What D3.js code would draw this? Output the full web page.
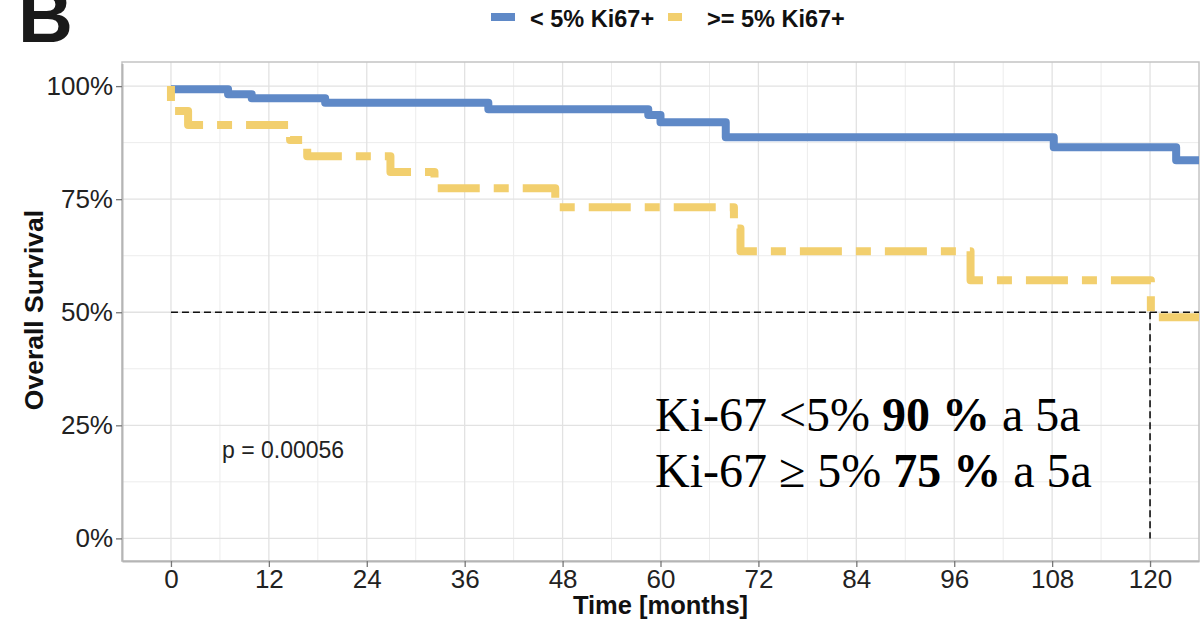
<!DOCTYPE html>
<html>
<head>
<meta charset="utf-8">
<script src="https://cdn.jsdelivr.net/npm/d3@7"></script>
<style>
  body { margin: 0; background: #fff; }
  svg { display: block; }
  .tick text { font-family: "Liberation Sans", Arial, sans-serif; fill: #222; }
</style>
</head>
<body>
<svg id="chart" width="1201" height="624"></svg>
<script>
/* global d3 */

// Kaplan-Meier steps (time in months, survival in %)
var lowTime = [0, 7.0, 9.9, 18.9, 38.9, 58.5, 60.0, 68.0, 108.2, 123.2, 126];
var lowSurv = [99.3, 98.2, 97.3, 96.3, 94.9, 93.6, 92.0, 88.7, 86.5, 83.6, 83.6];
var highTime = [0, 0, 2.1, 14.6, 16.7, 26.9, 32.3, 47.1, 69.0, 69.8, 98.0, 120.1, 126];
var highSurv = [100, 94.5, 91.4, 88.1, 84.5, 81.0, 77.4, 73.2, 68.5, 63.5, 57.1, 48.9, 48.9];

var xTicks = [0, 12, 24, 36, 48, 60, 72, 84, 96, 108, 120];
var yTicks = [0, 0.25, 0.5, 0.75, 1];
var seriesNames = ['< 5% Ki67+', '>= 5% Ki67+'];
var seriesColors = ['#5f89c7', '#f2cf6e'];
var medianTime = 120;
var pText = 'p = 0.00056';

var svg = d3.select('#chart');
var panel = { left: 122, right: 1199, top: 62, bottom: 561 };

var x = d3.scaleLinear().domain([-6, 126]).range([panel.left, panel.right]);
var y = d3.scaleLinear().domain([-0.05, 1.05]).range([panel.bottom, panel.top + 1.5]);

// grid
var grid = svg.append('g').attr('class', 'grid');
var xMinor = xTicks.map(d => d + 6).filter(d => d < 126);
var yMinor = [0.125, 0.375, 0.625, 0.875];
grid.selectAll('line.xmin').data(xMinor).enter().append('line')
  .attr('x1', d => x(d)).attr('x2', d => x(d)).attr('y1', panel.top).attr('y2', panel.bottom)
  .attr('stroke', '#ececec').attr('stroke-width', 1);
grid.selectAll('line.ymin').data(yMinor).enter().append('line')
  .attr('x1', panel.left).attr('x2', panel.right).attr('y1', d => y(d)).attr('y2', d => y(d))
  .attr('stroke', '#ececec').attr('stroke-width', 1);
grid.selectAll('line.xmaj').data(xTicks).enter().append('line')
  .attr('x1', d => x(d)).attr('x2', d => x(d)).attr('y1', panel.top).attr('y2', panel.bottom)
  .attr('stroke', '#e2e2e2').attr('stroke-width', 1.3);
grid.selectAll('line.ymaj').data(yTicks).enter().append('line')
  .attr('x1', panel.left).attr('x2', panel.right).attr('y1', d => y(d)).attr('y2', d => y(d))
  .attr('stroke', '#e2e2e2').attr('stroke-width', 1.3);

// panel border
svg.append('rect')
  .attr('x', panel.left).attr('y', panel.top)
  .attr('width', panel.right - panel.left).attr('height', panel.bottom - panel.top)
  .attr('fill', 'none').attr('stroke', '#c4c4c4').attr('stroke-width', 1.5);

// axes
var xAxis = svg.append('g')
  .attr('transform', `translate(0,${panel.bottom})`)
  .call(d3.axisBottom(x).tickValues(xTicks).tickSize(6).tickSizeOuter(0).tickPadding(3));
var yAxis = svg.append('g')
  .attr('transform', `translate(${panel.left},0)`)
  .call(d3.axisLeft(y).tickValues(yTicks).tickSize(6).tickSizeOuter(0).tickPadding(3)
    .tickFormat(d3.format('.0%')));
[xAxis, yAxis].forEach(a => {
  a.select('.domain').attr('stroke', '#b5b5b5').attr('stroke-width', 2);
  a.selectAll('.tick line').attr('stroke', '#777').attr('stroke-width', 1.3);
  a.selectAll('.tick text').attr('font-size', 26);
});

// median reference lines
svg.append('line')
  .attr('x1', x(0)).attr('x2', panel.right).attr('y1', y(0.5)).attr('y2', y(0.5))
  .attr('stroke', '#111').attr('stroke-width', 1.6).attr('stroke-dasharray', '7 4');
svg.append('line')
  .attr('x1', x(medianTime)).attr('x2', x(medianTime)).attr('y1', y(0.5)).attr('y2', y(0))
  .attr('stroke', '#111').attr('stroke-width', 1.6).attr('stroke-dasharray', '7 4');

// survival curves
var line = d3.line().curve(d3.curveStepAfter).x(d => x(d[0])).y(d => y(d[1] / 100));
svg.append('path')
  .datum(lowTime.map((t, i) => [t, lowSurv[i]]))
  .attr('d', line).attr('fill', 'none')
  .attr('stroke', seriesColors[0]).attr('stroke-width', 8).attr('stroke-linejoin', 'round');
svg.append('path')
  .datum(highTime.map((t, i) => [t, highSurv[i]]))
  .attr('d', line).attr('fill', 'none')
  .attr('stroke', seriesColors[1]).attr('stroke-width', 8).attr('stroke-linejoin', 'round')
  .attr('stroke-dasharray', '15 14 42 14');

// axis titles
svg.append('text')
  .attr('x', (panel.left + panel.right) / 2).attr('y', 614).attr('text-anchor', 'middle')
  .attr('font-family', 'Liberation Sans, Arial, sans-serif').attr('font-weight', 'bold')
  .attr('font-size', 25.5).attr('fill', '#111').text('Time [months]');
svg.append('text')
  .attr('transform', 'translate(43,310) rotate(-90)').attr('text-anchor', 'middle')
  .attr('font-family', 'Liberation Sans, Arial, sans-serif').attr('font-weight', 'bold')
  .attr('font-size', 26.5).attr('fill', '#111').text('Overall Survival');

// p value
svg.append('text')
  .attr('x', 222).attr('y', 458)
  .attr('font-family', 'Liberation Sans, Arial, sans-serif')
  .attr('font-size', 23).attr('fill', '#222').text(pText);

// legend
var legend = svg.append('g').attr('font-family', 'Liberation Sans, Arial, sans-serif')
  .attr('font-weight', 'bold').attr('font-size', 23.5).attr('fill', '#111');
legend.append('rect').attr('x', 491).attr('y', 13).attr('width', 24).attr('height', 8)
  .attr('fill', seriesColors[0]);
legend.append('text').attr('x', 530).attr('y', 27).text(seriesNames[0]);
legend.append('rect').attr('x', 668).attr('y', 13).attr('width', 14).attr('height', 8)
  .attr('fill', seriesColors[1]);
legend.append('text').attr('x', 707).attr('y', 27).text(seriesNames[1]);

// panel letter
svg.append('text')
  .attr('x', 18).attr('y', 42)
  .attr('font-family', 'Liberation Sans, Arial, sans-serif').attr('font-weight', 'bold')
  .attr('font-size', 76).attr('fill', '#1a1a1a').text('B');

// annotation
var note = svg.append('text')
  .attr('font-family', 'Liberation Serif, Times New Roman, serif')
  .attr('font-size', 48).attr('fill', '#000');
var l1 = note.append('tspan').attr('x', 655).attr('y', 431);
l1.append('tspan').text('Ki-67 <5% ');
l1.append('tspan').attr('font-weight', 'bold').text('90 %');
l1.append('tspan').text(' a 5a');
var l2 = note.append('tspan').attr('x', 655).attr('y', 487);
l2.append('tspan').text('Ki-67 \u2265 5% ');
l2.append('tspan').attr('font-weight', 'bold').text('75 %');
l2.append('tspan').text(' a 5a');
</script>
</body>
</html>
